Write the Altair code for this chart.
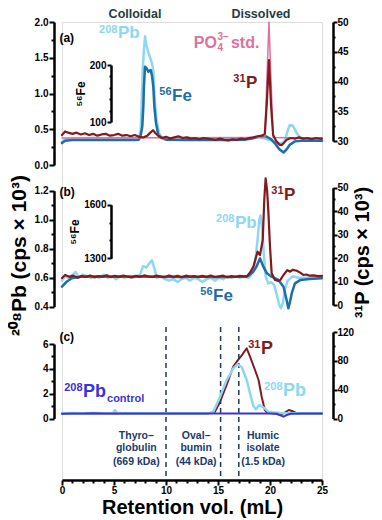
import altair as alt
import pandas as pd

# ---------------- data ----------------
# panel (a)
pb_a_x = [0, 0.3, 1, 2, 3, 4, 5, 6, 7, 7.4, 7.57, 7.66, 7.76, 7.88, 7.98, 8.1, 8.3, 8.46, 8.65, 8.78, 8.94, 9.1, 9.33, 9.6, 10, 11, 12, 13, 14, 15, 16, 17, 18, 18.8, 19.5, 20.2, 20.8, 21.2, 21.45, 21.7, 21.9, 22.2, 22.56, 22.9, 23.5, 24.2, 25]
pb_a_y = [0.32, 0.36, 0.37, 0.37, 0.38, 0.37, 0.37, 0.37, 0.37, 0.38, 0.49, 0.87, 1.33, 1.62, 1.80, 1.68, 1.58, 1.51, 1.42, 1.33, 0.87, 0.63, 0.45, 0.39, 0.38, 0.37, 0.38, 0.37, 0.37, 0.36, 0.37, 0.37, 0.37, 0.39, 0.37, 0.34, 0.30, 0.31, 0.35, 0.48, 0.56, 0.55, 0.45, 0.38, 0.36, 0.35, 0.35]

fe_a_x = [0, 0.3, 1, 2, 4, 6, 7, 7.4, 7.57, 7.72, 7.82, 7.88, 7.98, 8.15, 8.3, 8.42, 8.53, 8.65, 8.78, 8.88, 9.04, 9.26, 9.59, 10, 12, 14, 16, 17.5, 18.3, 18.9, 19.4, 19.7, 20.1, 20.5, 20.9, 21.3, 21.6, 21.9, 22.4, 23, 24, 25]
fe_a_y = [63, 67, 68.5, 68.5, 68.5, 68.5, 68.5, 69, 77, 92, 127, 162, 197, 194, 188, 190, 191, 182, 162, 127, 98, 77, 72, 69, 68.5, 68.5, 68.5, 69, 71, 74, 75.5, 74, 70, 62, 52, 46.5, 52, 60, 66, 67, 67, 67]

p_a_x = [0, 0.3, 0.6, 1.0, 1.4, 1.8, 2.2, 2.6, 3.0, 3.4, 3.8, 4.2, 4.6, 5.0, 5.4, 5.8, 6.2, 6.6, 7.0, 7.4, 7.8, 8.2, 8.5, 8.75, 9.0, 9.3, 9.6, 10.0, 10.4, 10.8, 11.2, 11.6, 12.0, 12.4, 12.8, 13.2, 13.6, 14.0, 14.4, 14.8, 15.2, 15.6, 16.0, 16.4, 16.8, 17.2, 17.6, 18.0, 18.4, 18.8, 19.2, 19.5, 19.7, 19.9, 20.1, 20.3, 20.6, 20.9, 21.1, 21.3, 21.6, 22.0, 22.4, 22.8, 23.2, 23.6, 24.0, 24.4, 24.8, 25]
p_a_y = [31.0, 31.6, 31.4, 31.2, 31.4, 31.1, 31.3, 31.0, 31.2, 30.9, 31.1, 31.2, 30.9, 31.0, 31.2, 30.9, 31.0, 30.8, 31.0, 30.7, 30.6, 30.9, 31.4, 31.8, 31.3, 30.8, 30.5, 30.7, 30.4, 30.6, 30.8, 30.5, 30.6, 30.4, 30.5, 30.3, 30.5, 30.4, 30.3, 30.2, 30.4, 30.2, 30.1, 30.3, 30.2, 30.4, 30.3, 30.5, 30.6, 30.8, 30.9, 31.2, 36.5, 43.6, 36.0, 31.0, 30.0, 29.4, 29.3, 29.6, 30.2, 30.5, 30.4, 30.6, 30.4, 30.5, 30.3, 30.5, 30.4, 30.4]

std_a_x = [0, 19.5, 19.9, 20.3, 25]
std_a_y = [30.5, 30.6, 50.0, 30.6, 30.5]

# panel (b)
pb_b_x = [0, 0.3, 0.6, 1.0, 1.3, 1.6, 2.0, 2.4, 2.8, 3.2, 3.6, 4.0, 4.4, 4.8, 5.2, 5.6, 6.0, 6.4, 6.8, 7.2, 7.5, 7.8, 8.1, 8.4, 8.65, 8.94, 9.1, 9.5, 9.9, 10.3, 10.7, 11.1, 11.5, 11.9, 12.3, 12.7, 13.1, 13.5, 13.9, 14.3, 14.7, 15.1, 15.5, 15.9, 16.3, 16.7, 17.1, 17.5, 17.9, 18.1, 18.56, 18.8, 18.97, 19.1, 19.26, 19.42, 19.58, 19.84, 20.1, 20.4, 20.7, 20.9, 21.05, 21.25, 21.44, 21.7, 22.2, 22.7, 23.3, 24, 25]
pb_b_y = [0.58, 0.61, 0.60, 0.62, 0.64, 0.60, 0.62, 0.61, 0.60, 0.61, 0.60, 0.62, 0.60, 0.61, 0.59, 0.61, 0.60, 0.61, 0.60, 0.61, 0.62, 0.68, 0.67, 0.70, 0.72, 0.65, 0.60, 0.61, 0.59, 0.58, 0.59, 0.57, 0.59, 0.60, 0.58, 0.60, 0.59, 0.57, 0.59, 0.60, 0.58, 0.60, 0.59, 0.61, 0.60, 0.61, 0.60, 0.61, 0.60, 0.61, 0.70, 0.86, 1.00, 1.03, 0.93, 0.75, 0.61, 0.56, 0.57, 0.55, 0.47, 0.41, 0.39, 0.43, 0.52, 0.58, 0.61, 0.60, 0.60, 0.60, 0.60]

fe_b_x = [0, 0.45, 0.93, 1.7, 3, 5, 7, 9, 11, 13, 15, 17, 17.9, 18.4, 18.7, 19.04, 19.36, 19.7, 20.16, 20.8, 21.3, 21.6, 21.76, 21.9, 22.1, 22.4, 22.9, 23.8, 25]
fe_b_y = [1141, 1169, 1188, 1197, 1198, 1197, 1198, 1197, 1196, 1197, 1196, 1197, 1201, 1225, 1253, 1300, 1253, 1216, 1197, 1179, 1141, 1067, 1020, 1050, 1106, 1160, 1178, 1184, 1188]

p_b_x = [0, 0.3, 0.7, 1.1, 1.5, 1.9, 2.3, 2.7, 3.1, 3.5, 3.9, 4.3, 4.7, 5.1, 5.5, 5.9, 6.3, 6.7, 7.1, 7.5, 7.9, 8.3, 8.7, 9.1, 9.5, 9.9, 10.3, 10.7, 11.1, 11.5, 11.9, 12.3, 12.7, 13.1, 13.5, 13.9, 14.3, 14.7, 15.1, 15.5, 15.9, 16.3, 16.7, 17.1, 17.5, 17.76, 18.1, 18.4, 18.8, 19.04, 19.3, 19.45, 19.58, 19.72, 19.84, 20.0, 20.16, 20.48, 20.8, 21.0, 21.3, 21.66, 21.9, 22.2, 22.57, 22.9, 23.2, 23.5, 23.8, 24.2, 24.6, 25]
p_b_y = [11.5, 12.8, 12.0, 12.5, 11.6, 12.4, 12.0, 12.6, 11.8, 12.3, 12.1, 12.7, 11.9, 12.4, 12.0, 12.5, 12.1, 11.8, 12.4, 12.0, 12.6, 12.2, 12.0, 12.5, 12.1, 11.9, 12.6, 12.0, 12.4, 11.8, 12.5, 12.1, 12.3, 11.9, 12.4, 12.0, 12.6, 11.9, 12.2, 12.5, 11.8, 12.3, 12.0, 12.4, 12.1, 12.1, 14.0, 16.3, 22.7, 21.3, 27.7, 44.8, 54.0, 49.0, 40.0, 25.0, 13.5, 10.7, 10.3, 10.7, 12.8, 14.9, 14.2, 15.0, 14.6, 13.8, 12.8, 13.0, 12.5, 12.6, 12.3, 12.4]

# panel (c)
pb_c_x = [0, 1, 2, 3, 4, 4.9, 5.1, 5.3, 6, 8, 10, 12, 13.5, 14.2, 14.55, 15.2, 15.83, 16.47, 16.86, 17.27, 17.76, 18.08, 18.4, 18.65, 18.97, 19.36, 19.84, 20.3, 21, 22, 23, 24, 25]
pb_c_y = [0.42, 0.44, 0.43, 0.44, 0.43, 0.44, 0.68, 0.44, 0.43, 0.43, 0.42, 0.43, 0.43, 0.44, 0.55, 1.76, 3.10, 4.04, 4.36, 4.17, 3.10, 2.03, 1.00, 0.74, 1.09, 0.90, 0.55, 0.50, 0.44, 0.43, 0.42, 0.42, 0.42]

p_c_x = [0, 5, 10, 14.0, 14.7, 15.2, 15.83, 16.47, 16.8, 17.3, 17.76, 18.08, 18.56, 18.9, 19.2, 19.5, 19.8, 20.5, 21.0, 21.4, 21.8, 22.2, 22.6, 23, 25]
p_c_y = [7, 7, 7, 7, 9.4, 23.3, 46.5, 71.9, 78.8, 88.0, 97.4, 85.7, 67.3, 53.4, 30.2, 11.8, 7.5, 7, 4.9, 8, 11.8, 10, 7, 7, 7]

ctrl_c_x = [0, 1, 2, 3, 4, 5, 6, 7, 8, 9, 10, 11, 12, 13, 14, 15, 16, 17, 18, 19, 20, 20.7, 21.0, 21.3, 21.6, 22, 23, 24, 25]
ctrl_c_y = [0.38, 0.41, 0.40, 0.42, 0.40, 0.41, 0.40, 0.41, 0.40, 0.41, 0.40, 0.41, 0.40, 0.41, 0.40, 0.41, 0.40, 0.41, 0.40, 0.41, 0.40, 0.38, 0.25, 0.15, 0.28, 0.38, 0.40, 0.41, 0.40]

# calibration standards (retention volume, mL)
std_vol = [10.0, 15.25, 17.0]
std_names = [["Thyro\u2013", "globulin", "(669 kDa)"],
             ["Oval\u2013", "bumin", "(44 kDa)"],
             ["Humic", "isolate", "(1.5 kDa)"]]
std_text_x = [7.15, 12.9, 19.33]

# ---------------- styles ----------------
FONT = "Liberation Sans"
C_PB = "#8cd8f2"
C_FE = "#1f6ea8"
C_P = "#831a1e"
C_STD = "#e0709c"
C_CTRL = "#3a34d8"
C_DASH = "#1e3a5f"
C_HEAD = "#1f3d45"
C_NOTE = "#1b3a6e"


def axis(orient, offset, values, labels, fmt, major=5, minor=3, **extra):
    lab = "[" + ",".join(repr(v) for v in labels) + "]"
    test = f"indexof({lab}, datum.value) >= 0"
    opts = dict(orient=orient, offset=offset, values=values,
                labelExpr=f"{test} ? format(datum.value, '{fmt}') : ''",
                tickSize={"condition": {"test": test, "value": major}, "value": minor},
                labelOverlap=False, labelFlush=False, grid=False,
                domainColor="black", domainWidth=2.5, tickColor="black", tickWidth=2,
                labelColor="black", labelFontSize=10, labelFontWeight="bold",
                labelFont=FONT, labelPadding=1, titleFont=FONT, titleColor="black",
                titleFontWeight="bold")
    if "title" not in extra:
        opts["title"] = None
    opts.update(extra)
    return alt.Axis(**opts)


def ysc(domain, rng):
    return alt.Scale(domain=domain, range=rng, nice=False, zero=False)


X = alt.X("x:Q", scale=alt.Scale(domain=[0, 25], nice=False, zero=False),
          axis=axis("bottom", 0, list(range(26)), [0, 5, 10, 15, 20, 25], "d", major=5, minor=3,
                    labelPadding=0, title="Retention vol. (mL)", titleFontSize=20, titleY=33,
                    titleBaseline="alphabetic"))


def line(xs, ys, yenc, color, width):
    df = pd.DataFrame({"x": xs, "y": ys})
    return alt.Chart(df).mark_line(color=color, strokeWidth=width, strokeJoin="round",
                                   strokeCap="round").encode(x=X, y=yenc)


def txt(x, y, s, yenc, size, color, align="left", baseline="alphabetic", dx=0, dy=0):
    df = pd.DataFrame({"x": [x], "y": [y], "t": [s]})
    return alt.Chart(df).mark_text(font=FONT, fontWeight="bold", fontSize=size, color=color,
                                   align=align, baseline=baseline, dx=dx, dy=dy).encode(
        x=X, y=yenc, text="t:N")


def iso(x, y, sup, main, yenc, color, size=17, supsize=11, supdy=-6):
    return [txt(x, y, main, yenc, size, color),
            txt(x, y, sup, yenc, supsize, color, align="right", dx=-0.5, dy=supdy)]


# ---------------- y encodings ----------------
Y_pb_a = alt.Y("y:Q", scale=ysc([0, 2], [143, 0]),
               axis=axis("left", 8, [0, 0.25, 0.5, 0.75, 1.0, 1.25, 1.5, 1.75, 2.0],
                         [0, 0.5, 1.0, 1.5, 2.0], ".1f"))
Y_fe_a = alt.Y("y:Q", scale=ysc([100, 200], [100, 43]),
               axis=axis("left", -49, [100, 120, 140, 160, 180, 200], [100, 200], "d",
                         major=4, minor=2, title="\u2075\u2076Fe",
                         titleFontSize=12, titleAngle=270, titlePadding=2))
Y_p_a = alt.Y("y:Q", scale=ysc([30, 50], [119, 0]),
              axis=axis("right", 11, [30, 32.5, 35, 37.5, 40, 42.5, 45, 47.5, 50],
                        [30, 35, 40, 45, 50], "d", major=4, minor=2, labelPadding=0))

Y_pb_b = alt.Y("y:Q", scale=ysc([0.4, 1.2], [284.7, 168.7]),
               axis=axis("left", 8, [0.4, 0.5, 0.6, 0.7, 0.8, 0.9, 1.0, 1.1, 1.2],
                         [0.4, 0.6, 0.8, 1.0, 1.2], ".1f",
                         title="\u00b2\u2070\u2078Pb (cps \u00d7 10\u00b3)", titleFontSize=21,
                         titleAngle=270, titleX=-29, titleY=233, titleAlign="center",
                         titleBaseline="alphabetic"))
Y_fe_b = alt.Y("y:Q", scale=ysc([1300, 1600], [236.3, 182.7]),
               axis=axis("left", -49, [1300, 1400, 1500, 1600], [1300, 1600], "d",
                         major=4, minor=2, title="\u2075\u2076Fe",
                         titleFontSize=12, titleAngle=270, titlePadding=2))
Y_p_b = alt.Y("y:Q", scale=ysc([0, 50], [283, 165.7]),
              axis=axis("right", 11, [0, 5, 10, 15, 20, 25, 30, 35, 40, 45, 50],
                        [0, 10, 20, 30, 40, 50], "d", major=4, minor=2, labelPadding=0,
                        title="\u00b3\u00b9P (cps \u00d7 10\u00b3)", titleFontSize=20,
                        titleAngle=270, titleX=35, titleY=230, titleAlign="center",
                        titleBaseline="alphabetic"))

Y_pb_c = alt.Y("y:Q", scale=ysc([0, 6], [396.5, 322]),
               axis=axis("left", 8, [0, 1, 2, 3, 4, 5, 6], [0, 2, 4, 6], "d"))
Y_p_c = alt.Y("y:Q", scale=ysc([0, 120], [396.5, 310]),
              axis=axis("right", 11, [0, 20, 40, 60, 80, 100, 120], [0, 40, 80, 120], "d",
                        major=4, minor=2, labelPadding=0))

# ---------------- panel (a) ----------------
sub_pb_a = alt.layer(
    line(pb_a_x, pb_a_y, Y_pb_a, C_PB, 2.5),
    *iso(5.38, 1.78, "208", "Pb", Y_pb_a, C_PB, supdy=-5),
    txt(7.02, 2.19, "Colloidal", Y_pb_a, 12.5, C_HEAD, align="center", baseline="top"),
    txt(19.13, 2.19, "Dissolved", Y_pb_a, 12.5, C_HEAD, align="center", baseline="top"),
    txt(-0.25, 1.78, "(a)", Y_pb_a, 12, "black", baseline="middle"),
)
sub_fe_a = alt.layer(
    line(fe_a_x, fe_a_y, Y_fe_a, C_FE, 2.5),
    *iso(10.58, 136.8, "56", "Fe", Y_fe_a, C_FE),
)
sub_p_a = alt.layer(
    line(std_a_x, std_a_y, Y_p_a, C_STD, 1.5),
    line(p_a_x, p_a_y, Y_p_a, C_P, 2.2),
    *iso(17.7, 38.9, "31", "P", Y_p_a, C_P),
    txt(14.9, 45.6, "PO", Y_p_a, 16, C_STD, align="right"),
    txt(14.9, 45.6, "4", Y_p_a, 10, C_STD, dx=0.5, dy=3),
    txt(14.9, 45.6, "3\u2212", Y_p_a, 10, C_STD, dx=0.5, dy=-8),
    txt(14.9, 45.6, "std.", Y_p_a, 16, C_STD, dx=14),
)

# ---------------- panel (b) ----------------
sub_pb_b = alt.layer(
    line(pb_b_x, pb_b_y, Y_pb_b, C_PB, 2.5),
    *iso(16.63, 0.943, "208", "Pb", Y_pb_b, C_PB),
    txt(-0.25, 1.19, "(b)", Y_pb_b, 12, "black", baseline="middle"),
)
sub_fe_b = alt.layer(
    line(fe_b_x, fe_b_y, Y_fe_b, C_FE, 2.5),
    *iso(14.52, 1061, "56", "Fe", Y_fe_b, C_FE),
)
sub_p_b = alt.layer(
    line(p_b_x, p_b_y, Y_p_b, C_P, 2.2),
    *iso(21.35, 44.8, "31", "P", Y_p_b, C_P),
)

# ---------------- panel (c) ----------------
sub_p_c = alt.layer(
    line(p_c_x, p_c_y, Y_p_c, C_P, 2.0),
    *iso(19.13, 89.5, "31", "P", Y_p_c, C_P, size=18),
)
rules_df = pd.DataFrame({"x": std_vol, "y": [7.37] * 3, "y2": [-4.63] * 3})
rules = alt.Chart(rules_df).mark_rule(color=C_DASH, strokeWidth=1.5, strokeDash=[5, 4]).encode(
    x=X, y=Y_pb_c, y2="y2:Q")
note_layers = []
for cx, lines_ in zip(std_text_x, std_names):
    for yv, s in zip([-1.385, -2.40, -3.48], lines_):
        note_layers.append(txt(cx, yv, s, Y_pb_c, 10.5, C_NOTE, align="center", baseline="middle"))

sub_pb_c = alt.layer(
    rules,
    line(pb_c_x, pb_c_y, Y_pb_c, C_PB, 2.5),
    line(ctrl_c_x, ctrl_c_y, Y_pb_c, C_CTRL, 2.0),
    *iso(21.25, 1.81, "208", "Pb", Y_pb_c, C_PB, size=18),
    *iso(2.02, 1.73, "208", "Pb", Y_pb_c, C_CTRL, size=18),
    txt(2.02, 1.73, "control", Y_pb_c, 11, C_CTRL, dx=24, dy=5),
    txt(-0.25, 6.59, "(c)", Y_pb_c, 12, "black", baseline="middle"),
    *note_layers,
)

chart = alt.layer(
    sub_pb_a, sub_fe_a, sub_p_a,
    sub_pb_b, sub_fe_b, sub_p_b,
    sub_p_c, sub_pb_c,
).resolve_scale(y="independent").properties(
    width=260, height=458,
    padding={"left": 54, "top": 14, "right": 52, "bottom": 38},
    autosize=alt.AutoSizeParams(type="none"),
).configure_view(stroke=None).configure(font=FONT)

chart.save("out.html", embed_options={"renderer": "svg", "actions": False})
